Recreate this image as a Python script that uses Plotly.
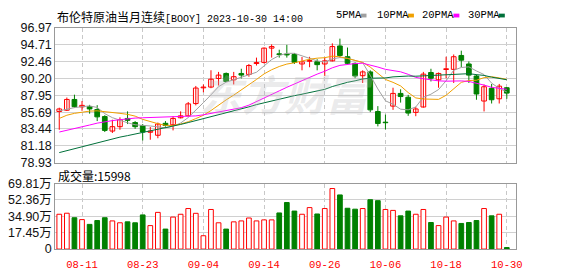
import plotly.graph_objects as go

# ---------------- data ----------------
dates = ["08-08", "08-09", "08-10", "08-11", "08-14", "08-15", "08-16", "08-17", "08-18",
         "08-21", "08-22", "08-23", "08-24", "08-25", "08-28", "08-29", "08-30", "08-31", "09-01",
         "09-04", "09-05", "09-06", "09-07", "09-08", "09-11", "09-12", "09-13", "09-14", "09-15",
         "09-18", "09-19", "09-20", "09-21", "09-22", "09-25", "09-26", "09-27", "09-28", "09-29",
         "10-02", "10-03", "10-04", "10-05", "10-06", "10-09", "10-10", "10-11", "10-12", "10-13",
         "10-16", "10-17", "10-18", "10-19", "10-20", "10-23", "10-24", "10-25", "10-26", "10-27", "10-30"]
tick_dates = ["08-11", "08-23", "09-04", "09-14", "09-26", "10-06", "10-18", "10-30"]

opens = [85.78, 85.95, 87.39, 86.40, 86.42, 86.04, 85.10, 83.16, 83.75, 84.85,
         84.30, 83.88, 83.00, 82.60, 84.20, 84.00, 84.94, 85.20, 86.84, 88.95,
         89.05, 90.20, 90.87, 90.02, 90.87, 90.74, 92.20, 92.35, 94.26, 93.50,
         93.45, 93.41, 92.14, 92.50, 92.43, 92.14, 92.56, 94.55, 93.11, 92.22,
         90.57, 91.08, 85.78, 84.35, 86.50, 88.20, 87.69, 85.66, 86.38, 91.00,
         90.02, 91.40, 91.42, 93.28, 92.14, 90.53, 87.18, 88.88, 87.48, 88.96]
highs = [86.29, 87.65, 88.03, 87.18, 86.67, 86.63, 85.28, 84.68, 85.00, 85.80,
         84.50, 84.10, 83.70, 84.30, 84.50, 85.15, 85.80, 87.05, 89.20, 89.40,
         91.30, 91.08, 91.00, 91.08, 91.50, 92.14, 92.99, 94.34, 94.76, 94.05,
         94.70, 93.60, 93.07, 93.10, 92.78, 92.99, 94.90, 95.53, 94.34, 92.35,
         91.29, 91.29, 86.50, 85.36, 88.96, 88.75, 88.00, 86.40, 91.08, 91.50,
         91.00, 93.11, 93.41, 93.92, 92.48, 90.74, 89.39, 89.47, 89.47, 89.05]
lows = [83.33, 85.85, 86.30, 85.87, 85.49, 84.50, 83.03, 82.90, 83.33, 84.10,
        83.46, 81.90, 82.00, 82.20, 83.75, 83.25, 84.85, 85.15, 86.60, 88.35,
        88.90, 89.26, 89.72, 89.40, 90.20, 90.44, 91.93, 92.20, 92.99, 92.99,
        92.99, 92.14, 91.29, 91.70, 91.29, 90.53, 92.48, 92.99, 92.14, 90.23,
        89.60, 85.70, 83.79, 83.38, 86.00, 86.97, 85.20, 85.15, 86.30, 89.80,
        88.96, 90.23, 89.60, 91.72, 89.60, 87.35, 85.79, 86.85, 86.85, 87.48]
closes = [86.12, 87.39, 86.42, 86.60, 86.12, 85.06, 83.25, 83.75, 84.68, 84.60,
          83.75, 83.03, 83.15, 84.10, 83.90, 84.85, 85.20, 86.80, 88.92, 89.05,
          90.10, 90.65, 89.80, 90.44, 90.65, 91.93, 92.33, 94.26, 94.47, 93.40,
          93.35, 92.35, 92.43, 92.60, 92.05, 92.56, 94.47, 93.28, 92.22, 90.53,
          91.08, 86.00, 84.18, 84.28, 88.20, 87.78, 85.57, 86.12, 90.78, 90.23,
          90.87, 91.50, 93.11, 92.65, 90.65, 88.12, 89.09, 87.35, 89.17, 88.24]
# volume in 万
volumes = [37.1, 38.2, 33.4, 31.4, 26.3, 30.4, 33.4, 30.0, 28.0, 29.0,
           28.0, 36.4, 25.0, 39.1, 21.3, 34.1, 37.1, 43.2, 38.1, 14.2,
           42.2, 28.0, 21.3, 29.0, 30.0, 33.1, 30.0, 31.1, 31.1, 38.5,
           49.6, 40.5, 37.1, 44.2, 37.4, 43.2, 64.5, 57.7, 43.5, 42.5,
           43.2, 52.6, 51.6, 42.2, 41.2, 35.4, 40.5, 37.1, 42.2, 28.3,
           25.0, 34.1, 30.0, 27.3, 28.3, 30.4, 43.2, 35.4, 37.1, 1.6]

# moving-average values before the window fills
ma5_head = [85.87, 86.12, 86.30, 86.42]
ma10_head = [84.85, 85.28, 85.53, 85.70, 85.83, 85.87, 85.78, 85.66, 85.53]
ma20_head = [83.03, 83.24, 83.46, 83.67, 83.97, 84.22, 84.43, 84.56, 84.68, 84.81,
             84.90, 84.94, 84.98, 85.02, 85.02, 85.02, 85.06, 85.11, 85.19]
ma30_head = [80.28, 80.54, 80.79, 81.10, 81.35, 81.60, 81.85, 82.10, 82.35, 82.55,
             82.75, 82.95, 83.15, 83.35, 83.55, 83.80, 84.05, 84.30, 84.55, 84.80,
             85.05, 85.30, 85.60, 85.85, 86.10, 86.40, 86.70, 86.95, 87.25]

price_ticks = ["78.93", "81.18", "83.44", "85.69", "87.95", "90.20", "92.46", "94.71", "96.97"]
vol_tickvals = [0, 17.45, 34.90, 52.36, 69.81]
vol_ticks = ["0", "17.45万", "34.90万", "52.36万", "69.81万"]
last_volume = "15998"

title_cn = "布伦特原油当月连续"
title_code = "[BOOY] 2023-10-30 14:00"
ma_names = ["5PMA", "10PMA", "20PMA", "30PMA"]

# ---------------- styles ----------------
W, H = 578, 276
RED = "#ff0000"
GREEN = "#008000"
MA_COLORS = ["#a0a0a0", "#f0a000", "#ff00ff", "#00703a"]
PX0, PX1 = 56, 522
P_TOP, P_BOT = 22, 164
V_TOP, V_BOT = 186, 255


def px(x):
    return x / W


def py(y):
    return 1 - y / H


def moving_avg(vals, n, head):
    out = list(head)
    for i in range(len(head), len(vals)):
        out.append(sum(vals[i - n + 1:i + 1]) / n)
    return out


idx = list(range(len(dates)))
up = [c >= o for o, c in zip(opens, closes)]
vol_up = [closes[0] >= opens[0]] + [closes[i] >= closes[i - 1] for i in range(1, len(closes))]

fig = go.Figure()


def wick_trace(sel, color):
    xs, ys = [], []
    for i in idx:
        if sel[i]:
            xs += [i, i, None]
            ys += [lows[i], highs[i], None]
    return go.Scatter(x=xs, y=ys, mode="lines", line=dict(color=color, width=1),
                      hoverinfo="skip", showlegend=False, xaxis="x", yaxis="y")


fig.add_trace(wick_trace(up, RED))
fig.add_trace(wick_trace([not u for u in up], GREEN))


def body_trace(sel, fill, line):
    xs = [i for i in idx if sel[i]]
    base = [min(opens[i], closes[i]) for i in xs]
    h = [max(abs(closes[i] - opens[i]), 0.02) for i in xs]
    return go.Bar(x=xs, y=h, base=base, width=0.62,
                  marker=dict(color=fill, line=dict(color=line, width=1)),
                  showlegend=False, xaxis="x", yaxis="y")


fig.add_trace(body_trace(up, "white", RED))
fig.add_trace(body_trace([not u for u in up], GREEN, GREEN))

for name, n, head, col in zip(ma_names, [5, 10, 20, 30],
                              [ma5_head, ma10_head, ma20_head, ma30_head], MA_COLORS):
    fig.add_trace(go.Scatter(x=idx, y=moving_avg(closes, n, head), mode="lines",
                             line=dict(color=col, width=1), name=name,
                             showlegend=False, xaxis="x", yaxis="y"))

vx_up = [i for i in idx if vol_up[i]]
vx_dn = [i for i in idx if not vol_up[i]]
fig.add_trace(go.Bar(x=vx_up, y=[volumes[i] for i in vx_up], width=0.62,
                     marker=dict(color="white", line=dict(color=RED, width=1)),
                     showlegend=False, xaxis="x2", yaxis="y2"))
fig.add_trace(go.Bar(x=vx_dn, y=[volumes[i] for i in vx_dn], width=0.62,
                     marker=dict(color=GREEN, line=dict(color=GREEN, width=1)),
                     showlegend=False, xaxis="x2", yaxis="y2"))

tick_idx = [dates.index(d) for d in tick_dates]
xr = [-0.52, 60.17]
common_x = dict(domain=[px(PX0), px(PX1)], range=xr, tickvals=tick_idx,
                showgrid=True, gridcolor="#c8c8c8", griddash="4px,3px", gridwidth=1,
                showline=True, linecolor="#999999", linewidth=1, mirror=True,
                zeroline=False, ticks="", fixedrange=True)

fig.update_layout(
    width=W, height=H, margin=dict(l=0, r=0, t=0, b=0),
    paper_bgcolor="white", plot_bgcolor="white", barmode="overlay",
    showlegend=False,
    xaxis=dict(**common_x, anchor="y", showticklabels=False),
    xaxis2=dict(**common_x, anchor="y2", ticktext=tick_dates, showticklabels=True,
                tickfont=dict(family="Liberation Mono", size=10.5, color=RED),
                ticklabelstandoff=5),
    yaxis=dict(domain=[py(P_BOT), py(P_TOP)], range=[float(price_ticks[0]), float(price_ticks[-1])],
               tickvals=[float(t) for t in price_ticks], ticktext=price_ticks,
               showgrid=True, gridcolor="#d0d0d0", gridwidth=1,
               showline=True, linecolor="#999999", linewidth=1, mirror=True,
               zeroline=False, ticks="",
               tickfont=dict(family="Liberation Sans", size=12.5, color="#111111")),
    yaxis2=dict(domain=[py(V_BOT), py(V_TOP)], range=[vol_tickvals[0], vol_tickvals[-1]],
                tickvals=vol_tickvals, ticktext=vol_ticks,
                showgrid=True, gridcolor="#d0d0d0", gridwidth=1,
                showline=True, linecolor="#999999", linewidth=1, mirror=True,
                zeroline=False, ticks="",
                tickfont=dict(family="Liberation Sans, Noto Sans CJK SC", size=12.5, color="#111111")),
)

annotations = [
    dict(text="东方财富", x=px(291), y=py(90), xref="paper", yref="paper",
         xanchor="center", yanchor="middle",
         showarrow=False, font=dict(family="Noto Sans CJK SC", size=42,
                                    color="rgba(185,185,190,0.3)", style="italic", weight="bold")),
    dict(text=title_cn + '<span style="font-family:Liberation Mono;font-size:10px">' + title_code + "</span>",
         x=px(56), y=py(10), xref="paper", yref="paper", xanchor="left", yanchor="middle",
         showarrow=False, font=dict(family="Noto Sans CJK SC", size=12, color="#000000")),
    dict(text="成交量:" + last_volume, x=px(57), y=py(177), xref="paper", yref="paper",
         xanchor="left", yanchor="middle", showarrow=False,
         font=dict(family="Noto Sans CJK SC", size=12, color="#000000")),
]
shapes = []
leg_x = [338, 380, 425, 472]
leg_sq = [365, 413, 459, 505]
for name, lx, sx, col in zip(ma_names, leg_x, leg_sq, MA_COLORS):
    annotations.append(dict(text=name, x=px(lx), y=py(8), xref="paper", yref="paper",
                            xanchor="left", yanchor="middle", showarrow=False,
                            font=dict(family="Liberation Mono", size=10.5, color="#000000")))
    shapes.append(dict(type="rect", xref="paper", yref="paper", x0=px(sx), x1=px(sx + 6),
                       y0=py(11), y1=py(7), fillcolor=col, line=dict(width=0)))

fig.update_layout(annotations=annotations, shapes=shapes)

fig.write_html("out.html")
